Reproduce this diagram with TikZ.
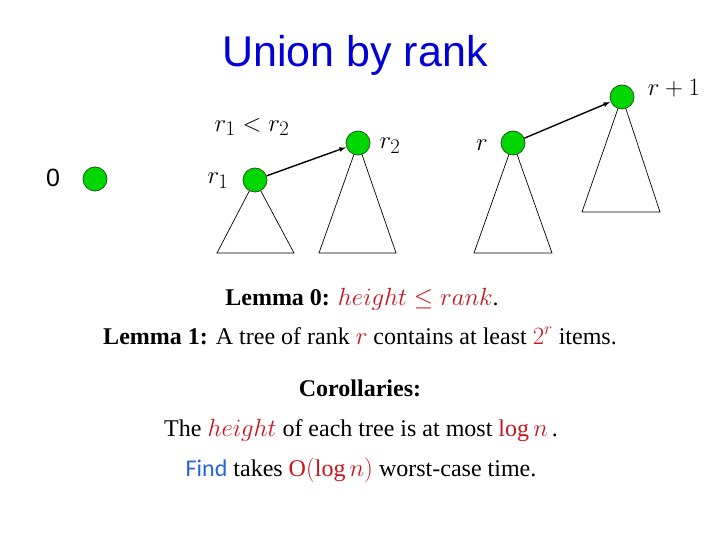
\documentclass[tikz,border=0pt]{standalone}
\usepackage{fontspec}
\setmainfont{Liberation Serif}
\newfontfamily\arialf{Liberation Sans}
\newfontfamily\calf{Carlito}
\usetikzlibrary{arrows.meta}
\definecolor{nodegreen}{RGB}{0,215,0}
\definecolor{nodeedge}{RGB}{30,90,30}
\definecolor{lemred}{RGB}{200,20,30}
\definecolor{titleblue}{RGB}{0,0,215}
\definecolor{findblue}{RGB}{40,100,215}
\begin{document}
\begin{tikzpicture}[x=1pt,y=-1pt,
  rk/.style={circle, fill=nodegreen, draw=nodeedge, line width=0.8pt, minimum size=24pt, inner sep=0pt},
  tri/.style={draw, line width=0.7pt},
  link/.style={-{Latex[length=7pt,width=5pt]}, line width=1.4pt},
  lab/.style={font=\fontsize{29}{31}\selectfont, inner sep=0pt},
  txt/.style={font=\fontsize{24}{27}\selectfont, inner sep=0pt, anchor=base}]
\useasboundingbox (0,0) rectangle (720,540);
% title
\node[font=\arialf\fontsize{43}{46}\selectfont, text=titleblue, inner sep=0pt, anchor=base] (title) at (355,67) {Union by rank};
% node coordinates
\coordinate (c0) at (95,179);
\coordinate (c1) at (255,180);
\coordinate (c2) at (358,143);
\coordinate (c3) at (513,143);
\coordinate (c4) at (622,97);
% triangles
\draw[tri] (c1) -- (217,253) -- (294,253) -- cycle;
\draw[tri] (c2) -- (319,253) -- (396,253) -- cycle;
\draw[tri] (c3) -- (474,253) -- (552,253) -- cycle;
\draw[tri] (c4) -- (582,212) -- (660,212) -- cycle;
% nodes
\node[rk] (n0) at (c0) {};
\node[rk] (n1) at (c1) {};
\node[rk] (n2) at (c2) {};
\node[rk] (n3) at (c3) {};
\node[rk] (n4) at (c4) {};
% labels
\node[font=\arialf\fontsize{25}{27}\selectfont, inner sep=0pt] (l0) at (53,178) {0};
\node[lab] (l1) at (218,181) {$r_1$};
\node[lab] (lcmp) at (252,127) {$r_1 < r_2$};
\node[lab] (l2) at (390,146) {$r_2$};
\node[lab] (l3) at (482,145) {$r$};
\node[lab] (l4) at (674,88) {$r+1$};
% arrows
\draw[link] (n1) -- (n2);
\draw[link] (n3) -- (n4);
% text
\node[txt] (lem0) at (362,305) {\textbf{Lemma 0:} \textcolor{lemred}{$height \leq rank$}.};
\node[txt] (lem1) at (360,344) {\textbf{Lemma 1:} A tree of rank \textcolor{lemred}{$r$} contains at least \textcolor{lemred}{$2^r$} items.};
\node[txt] (cor) at (360,396) {\textbf{Corollaries:}};
\node[txt] (c1t) at (361,436) {The \textcolor{lemred}{$height$} of each tree is at most \textcolor{lemred}{$\log n$}\,.};
\node[txt] (c2t) at (361,476) {\textcolor{findblue}{\calf Find} takes \textcolor{lemred}{$\mathrm{O}(\log n)$} worst-case time.};
\end{tikzpicture}
\end{document}
